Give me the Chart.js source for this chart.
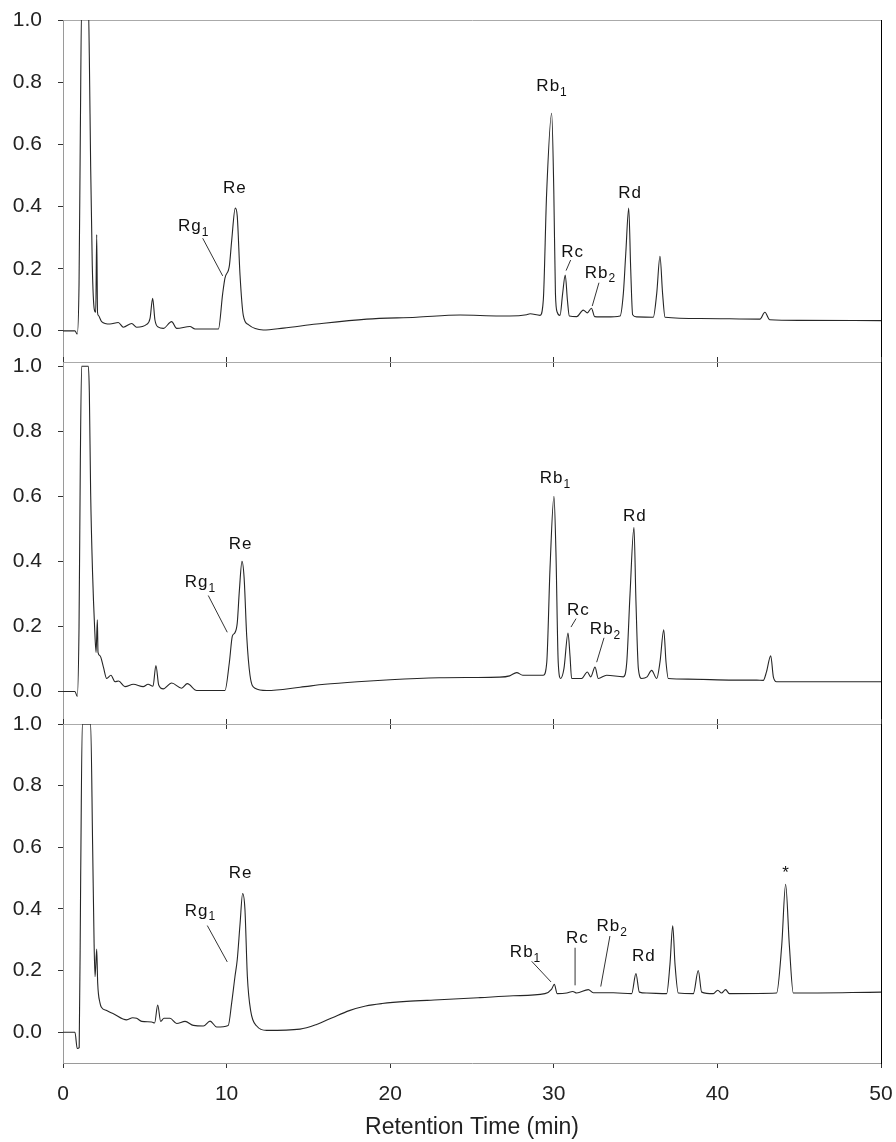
<!DOCTYPE html>
<html>
<head>
<meta charset="utf-8">
<script src="https://cdn.jsdelivr.net/npm/chart.js@4.4.1/dist/chart.umd.min.js"></script>
<style>
  html, body { margin: 0; padding: 0; background: #fff; }
  #wrap { position: relative; width: 896px; height: 1142px; overflow: hidden; }
  #wrap canvas { position: absolute; left: 0; }
</style>
</head>
<body>
<div id="wrap">
  <canvas id="c1" width="896" height="380" style="top:0px"></canvas>
  <canvas id="c2" width="896" height="400" style="top:340px"></canvas>
  <canvas id="c3" width="896" height="442" style="top:700px"></canvas>
</div>
<script>
// retention time (min) and response for each of the three chromatograms
const time1 = [0, 0.73, 0.87, 0.98, 1.06, 1.14, 1.55, 1.61, 1.69, 1.79, 1.91, 2.0, 2.06, 2.11, 2.16, 2.36, 2.87, 3.38, 3.69, 4.2, 4.5, 5.11, 5.32, 5.48, 5.62, 5.83, 6.13, 6.64, 6.95, 7.76, 8.07, 9.5, 9.76, 9.9, 10.17, 10.31, 10.53, 10.65, 10.82, 11.02, 11.33, 12.24, 13.47, 15.5, 18.56, 21.6, 24.27, 26.7, 27.3, 28.34, 28.55, 29.16, 29.36, 29.56, 29.87, 30.0, 30.1, 30.21, 30.38, 30.54, 30.7, 30.83, 30.95, 31.4, 31.8, 32.05, 32.3, 32.5, 33.23, 34.05, 34.25, 34.4, 34.58, 34.7, 34.82, 35.07, 36.08, 36.29, 36.49, 36.65, 36.8, 38.94, 42.6, 42.9, 43.2, 45.0, 50];
const signal1 = [0, 0, -0.01, 0.15, 0.64, 1.05, 1.05, 0.88, 0.53, 0.21, 0.07, 0.06, 0.31, 0.06, 0.05, 0.03, 0.022, 0.027, 0.012, 0.024, 0.012, 0.021, 0.04, 0.105, 0.035, 0.012, 0.008, 0.03, 0.008, 0.014, 0.006, 0.006, 0.12, 0.17, 0.21, 0.29, 0.395, 0.37, 0.18, 0.05, 0.02, 0.003, 0.009, 0.022, 0.038, 0.044, 0.051, 0.048, 0.048, 0.052, 0.055, 0.05, 0.1, 0.44, 0.70, 0.45, 0.12, 0.06, 0.05, 0.12, 0.18, 0.1, 0.048, 0.046, 0.067, 0.058, 0.073, 0.046, 0.045, 0.048, 0.12, 0.25, 0.395, 0.2, 0.052, 0.045, 0.044, 0.12, 0.24, 0.12, 0.044, 0.04, 0.038, 0.06, 0.036, 0.034, 0.033];

const time2 = [0, 0.73, 0.87, 0.98, 1.06, 1.14, 1.55, 1.61, 1.69, 1.81, 1.93, 2.02, 2.1, 2.14, 2.26, 2.47, 2.67, 2.93, 3.18, 3.4, 3.79, 4.3, 4.9, 5.2, 5.5, 5.68, 5.85, 6.13, 6.64, 7.25, 7.6, 8.17, 9.9, 10.17, 10.35, 10.5, 10.65, 10.78, 10.94, 11.07, 11.23, 11.43, 11.74, 12.45, 14.49, 16, 18, 20, 23, 25, 26.7, 27.3, 27.73, 28.1, 29.36, 29.57, 29.77, 30.01, 30.13, 30.27, 30.42, 30.62, 30.87, 30.99, 31.09, 31.7, 32.05, 32.26, 32.52, 32.72, 33.23, 34.25, 34.46, 34.66, 34.9, 35.02, 35.17, 35.37, 35.7, 35.98, 36.29, 36.49, 36.72, 36.86, 37.0, 38.2, 40.97, 42.4, 42.8, 43.0, 43.26, 43.42, 43.62, 46.07, 50];
const signal2 = [0, 0, -0.015, 0.2, 0.71, 1.0, 1.0, 0.92, 0.61, 0.36, 0.2, 0.12, 0.22, 0.12, 0.11, 0.075, 0.04, 0.05, 0.03, 0.032, 0.015, 0.022, 0.015, 0.022, 0.016, 0.08, 0.02, 0.008, 0.026, 0.01, 0.024, 0.003, 0.003, 0.09, 0.17, 0.18, 0.21, 0.31, 0.40, 0.35, 0.17, 0.05, 0.01, 0.003, 0.013, 0.022, 0.03, 0.036, 0.042, 0.043, 0.044, 0.048, 0.058, 0.05, 0.05, 0.09, 0.38, 0.60, 0.43, 0.09, 0.04, 0.07, 0.18, 0.11, 0.04, 0.04, 0.06, 0.045, 0.075, 0.04, 0.05, 0.045, 0.09, 0.3, 0.505, 0.28, 0.07, 0.04, 0.045, 0.065, 0.04, 0.09, 0.19, 0.09, 0.04, 0.038, 0.035, 0.035, 0.034, 0.06, 0.11, 0.045, 0.03, 0.03, 0.03];

const time3 = [0, 0.73, 0.87, 0.99, 1.08, 1.18, 1.69, 1.81, 1.9, 1.96, 2.06, 2.12, 2.26, 2.36, 2.67, 3.08, 3.89, 4.26, 4.5, 4.81, 5.42, 5.6, 5.79, 5.97, 6.17, 6.54, 6.95, 7.46, 7.97, 8.58, 8.99, 9.39, 10.1, 10.31, 10.51, 10.65, 10.82, 10.98, 11.12, 11.27, 11.47, 11.84, 12.45, 14.49, 15.5, 16.5, 17.5, 18.5, 19.5, 21, 23, 25.49, 27.52, 29.46, 29.87, 30.03, 30.21, 30.79, 31.16, 31.4, 32.11, 32.41, 33.64, 34.76, 35.02, 35.23, 35.68, 36.9, 37.1, 37.27, 37.41, 37.61, 38.53, 38.83, 39.04, 39.75, 40.02, 40.25, 40.5, 40.73, 43.62, 43.93, 44.17, 44.4, 44.64, 50];
const signal3 = [0, 0, -0.053, -0.05, 0.5, 1.0, 1.0, 0.61, 0.29, 0.18, 0.27, 0.16, 0.095, 0.08, 0.07, 0.06, 0.04, 0.047, 0.045, 0.035, 0.033, 0.03, 0.088, 0.035, 0.045, 0.045, 0.028, 0.035, 0.022, 0.02, 0.036, 0.017, 0.022, 0.095, 0.18, 0.235, 0.35, 0.45, 0.40, 0.18, 0.07, 0.02, 0.006, 0.01, 0.025, 0.048, 0.07, 0.085, 0.093, 0.1, 0.105, 0.112, 0.118, 0.125, 0.14, 0.155, 0.125, 0.127, 0.132, 0.127, 0.138, 0.128, 0.128, 0.125, 0.19, 0.13, 0.127, 0.125, 0.22, 0.345, 0.22, 0.127, 0.125, 0.2, 0.13, 0.125, 0.136, 0.127, 0.138, 0.125, 0.127, 0.28, 0.48, 0.28, 0.127, 0.13];

const xTicks = [0, 10, 20, 30, 40, 50];
const yTicks = [0, 0.2, 0.4, 0.6, 0.8, 1.0];

// peak labels: [text, subscript, time, response] and leader lines [t1, v1, t2, v2]
const notes1 = [['Re', '', 10.5, 0.46], ['Rg', '1', 7.76, 0.335], ['Rb', '1', 29.66, 0.786], ['Rc', '', 31.15, 0.252], ['Rb', '2', 32.62, 0.186], ['Rd', '', 34.66, 0.443]];
const leaders1 = [[8.54, 0.298, 9.76, 0.177], [31.03, 0.228, 30.75, 0.194], [32.76, 0.155, 32.35, 0.08]];
const notes2 = [['Re', '', 10.86, 0.454], ['Rg', '1', 8.17, 0.336], ['Rb', '1', 29.87, 0.654], ['Rc', '', 31.5, 0.251], ['Rb', '2', 32.93, 0.19], ['Rd', '', 34.96, 0.54]];
const leaders2 = [[8.88, 0.295, 10.04, 0.182], [31.36, 0.224, 31.05, 0.198], [33.07, 0.165, 32.62, 0.09]];
const notes3 = [['Re', '', 10.86, 0.515], ['Rg', '1', 8.17, 0.393], ['Rb', '1', 28.04, 0.258], ['Rc', '', 31.44, 0.303], ['Rb', '2', 33.33, 0.342], ['Rd', '', 35.51, 0.245], ['*', '', 44.2, 0.517]];
const leaders3 = [[8.82, 0.346, 10.04, 0.228], [28.65, 0.23, 29.83, 0.163], [31.3, 0.274, 31.3, 0.152], [33.43, 0.312, 32.87, 0.148]];

const FONT = "'Liberation Sans', Arial, sans-serif";

function notePlugin(notes, leaders){
  return {
    id: "peakNotes",
    afterDatasetsDraw(chart){
      const {ctx, scales: {x, y}} = chart;
      ctx.save();
      ctx.strokeStyle = "#333";
      ctx.lineWidth = 1;
      leaders.forEach(([t1, v1, t2, v2]) => {
        ctx.beginPath();
        ctx.moveTo(x.getPixelForValue(t1), y.getPixelForValue(v1));
        ctx.lineTo(x.getPixelForValue(t2), y.getPixelForValue(v2));
        ctx.stroke();
      });
      ctx.fillStyle = "#111";
      ctx.textBaseline = "middle";
      notes.forEach(([txt, sub, t, v]) => {
        const px = x.getPixelForValue(t), py = y.getPixelForValue(v);
        ctx.font = "17px " + FONT;
        ctx.letterSpacing = "1px";
        ctx.textAlign = "center";
        ctx.fillText(txt, px, py);
        if (sub) {
          const w = ctx.measureText(txt).width;
          ctx.font = "12px " + FONT;
          ctx.letterSpacing = "0px";
          ctx.textAlign = "left";
          ctx.fillText(sub, px + w / 2, py + 6);
        }
      });
      ctx.restore();
    }
  };
}

// keep the plot area fixed: no extra room for overhanging tick labels
function noPad(s){
  s.paddingTop = 0; s.paddingBottom = 0; s.paddingLeft = 0; s.paddingRight = 0;
}

function buildPanel(id, times, signal, yMax, opts){
  const points = times.map((t, i) => ({x: t, y: signal[i]}));
  const setTicks = (list) => (scale) => { scale.ticks = list.map(v => ({value: v})); };
  return new Chart(document.getElementById(id), {
    type: "line",
    data: {
      datasets: [{
        data: points,
        borderColor: "#262626",
        borderWidth: 1.1,
        pointRadius: 0,
        cubicInterpolationMode: "monotone",
        fill: false
      }]
    },
    options: {
      responsive: false,
      animation: false,
      events: [],
      layout: { padding: 0 },
      plugins: { legend: { display: false }, tooltip: { enabled: false } },
      scales: {
        x: {
          type: "linear", position: "bottom", min: 0, max: 50,
          afterBuildTicks: setTicks(xTicks),
          afterFit: (s) => { s.height = opts.bottom; noPad(s); },
          border: { color: "#9a9a9a", width: 1 },
          grid: { drawOnChartArea: false, drawTicks: true, tickLength: 5, tickColor: "#333" },
          ticks: {
            display: opts.xLabels, padding: 14, color: "#222",
            font: { family: FONT, size: 21 },
            maxRotation: 0, autoSkip: false
          },
          title: {
            display: opts.xLabels, text: "Retention Time (min)", color: "#222",
            font: { family: FONT, size: 23 }, padding: { top: 0, bottom: 1 }
          }
        },
        xt: {
          type: "linear", position: "top", min: 0, max: 50,
          afterBuildTicks: setTicks(xTicks),
          afterFit: (s) => { s.height = opts.top; noPad(s); },
          border: { color: "#aaaaaa", width: 1 },
          grid: { display: opts.topTicks, drawOnChartArea: false, drawTicks: true, tickLength: 5, tickColor: "#333" },
          ticks: { display: false }
        },
        y: {
          type: "linear", position: "left", min: -0.1, max: yMax,
          afterBuildTicks: setTicks(yTicks),
          afterFit: (s) => { s.width = 63; noPad(s); },
          border: { color: "#9a9a9a", width: 1 },
          grid: { drawOnChartArea: false, drawTicks: true, tickLength: 5, tickColor: "#333" },
          ticks: {
            padding: 16, color: "#222",
            font: { family: FONT, size: 21 },
            callback: (v) => Number(v).toFixed(1)
          }
        },
        yr: {
          type: "linear", position: "right", min: -0.1, max: yMax,
          afterFit: (s) => { s.width = 15; noPad(s); },
          border: { color: "#000", width: 1 },
          grid: { display: false },
          ticks: { display: false }
        }
      }
    },
    plugins: [notePlugin(opts.notes, opts.leaders)]
  });
}

buildPanel("c1", time1, signal1, 1.0, { top: 20, bottom: 18, topTicks: false, xLabels: false, notes: notes1, leaders: leaders1 });
buildPanel("c2", time2, signal2, 1.013, { top: 22, bottom: 16, topTicks: true, xLabels: false, notes: notes2, leaders: leaders2 });
buildPanel("c3", time3, signal3, 1.0, { top: 24, bottom: 79, topTicks: true, xLabels: true, notes: notes3, leaders: leaders3 });
</script>
</body>
</html>
